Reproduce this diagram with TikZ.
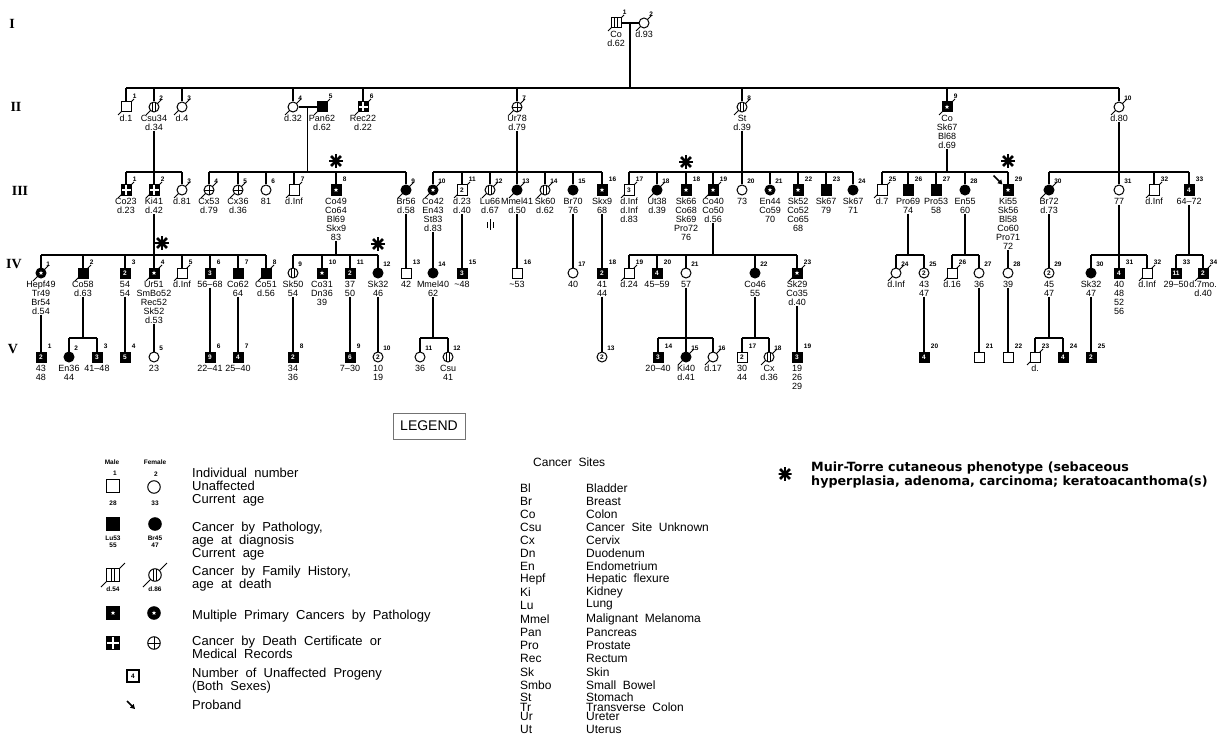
\documentclass[tikz,border=0pt]{standalone}
\usepackage{fontspec}
\setmainfont{Liberation Sans}
\newfontfamily\legfont[WordSpace=2]{Liberation Sans}
\newfontfamily\romfont{Liberation Serif}
\newfontfamily\mtfont{DejaVu Sans}
\usetikzlibrary{shapes.geometric, arrows.meta, positioning, calc}
\tikzset{
  sym/.style={draw, fill=white, line width=1pt, minimum size=10pt, inner sep=0pt},
  male/.style={sym, rectangle},
  female/.style={sym, circle},
  legsym/.style={minimum size=12.5pt},
  aff/.style={fill=black},
  multi/.style={fill=black, path picture={\node[star, star points=5, star point ratio=2.4,
    fill=white, draw=none, inner sep=0pt, minimum size=4.6pt] at (path picture bounding box.center) {};}},
  fhist/.style={path picture={\draw[line width=0.8pt]
    ([xshift=-1.7pt]path picture bounding box.north) -- ([xshift=-1.7pt]path picture bounding box.south)
    ([xshift=1.7pt]path picture bounding box.north) -- ([xshift=1.7pt]path picture bounding box.south);}},
  dcert/.style={fill=black, path picture={\draw[white, line width=1.2pt]
    (path picture bounding box.north) -- (path picture bounding box.south)
    (path picture bounding box.west) -- (path picture bounding box.east);}},
  dcertf/.style={path picture={\draw[line width=0.9pt]
    (path picture bounding box.north) -- (path picture bounding box.south)
    (path picture bounding box.west) -- (path picture bounding box.east);}},
  prog/.style={male, fill=black, text=white, font=\bfseries\fontsize{6.5}{6.5}\selectfont},
  progw/.style={font=\bfseries\fontsize{6.5}{6.5}\selectfont},
  dec/.style={append after command={\pgfextra{\draw[line width=0.8pt]
    ($(\tikzlastnode.center)+(-8,8)$) -- ($(\tikzlastnode.center)+(8,-8)$);}}},
  decl/.style={append after command={\pgfextra{\draw[line width=0.8pt]
    ($(\tikzlastnode.center)+(-12,12)$) -- ($(\tikzlastnode.center)+(12,-12)$);}}},
  num/.style={label={[numlbl]north east:#1}},
  numlbl/.style={font=\bfseries\fontsize{6.5}{7}\selectfont, inner sep=0pt, xshift=1.2pt, yshift=2.5pt},
  txt/.style={label={[lbl]below:#1}},
  txtn/.style 2 args={label={[lbl, name=#1]below:#2}},
  lbl/.style={font=\fontsize{9}{9}\selectfont, align=center, inner sep=0pt, yshift=-2.5pt},
  line/.style={line width=1.2pt},
  proband/.style={-{Triangle[length=4.5pt, width=5pt]}, line width=1.6pt},
  mtast/.style={inner sep=0pt, minimum size=15pt, path picture={
    \fill (path picture bounding box.center) circle (3pt);
    \foreach \a in {0,45,90,135}{\draw[line width=2.8pt]
      ($(path picture bounding box.center)+(\a:7pt)$) -- ($(path picture bounding box.center)+(\a+180:7pt)$);}}},
  gen/.style={font=\romfont\bfseries\fontsize{14}{14}\selectfont, inner sep=0pt},
  lgsm/.style={font=\bfseries\fontsize{6.5}{7.5}\selectfont, inner sep=0pt, align=center},
  legtxt/.style={font=\legfont\fontsize{13}{13}\selectfont, align=left, anchor=west, inner sep=0pt},
  site/.style={font=\legfont\fontsize{12}{12}\selectfont, anchor=west, inner sep=0pt}
}
\begin{document}
\begin{tikzpicture}[x=1pt, y=-1pt]
  \fill[white] (0,0) rectangle (1217,738);
  \useasboundingbox (0,0) rectangle (1217,738);

  % sibship levels
  \coordinate (sII) at (0,88);
  \coordinate (sIII) at (0,172);
  \coordinate (sIV) at (0,255);
  \coordinate (sV) at (0,338);

  % generation numbers
  \node[gen] (gI) at (12,24) {I};
  \node[gen] (gII) at (16,107) {II};
  \node[gen] (gIII) at (20,191) {III};
  \node[gen] (gIV) at (14,264) {IV};
  \node[gen] (gV) at (13,349) {V};

  % generation I
  \node[male, fhist, dec, num=1, txt={Co\\d.62}] (I1) at (616,23) {};
  \node[female, dec, num=2, txt={d.93}] (I2) at (644,23) {};
  \coordinate (mI) at ($(I1.east)!0.5!(I2.west)$);

  % generation II
  \node[male, dec, num=1, txt={d.1}] (II1) at (126,107) {};
  \node[female, fhist, dec, num=2, txtn={II2t}{Csu34\\d.34}] (II2) at (154,107) {};
  \node[female, dec, num=3, txt={d.4}] (II3) at (182,107) {};
  \node[female, dec, num=4, txt={d.32}] (II4) at (293,107) {};
  \node[male, aff, dec, num=5, txt={Pan62\\d.62}] (II5) at (322,107) {};
  \node[male, dcert, dec, num=6, txt={Rec22\\d.22}] (II6) at (363,107) {};
  \node[female, dcertf, dec, num=7, txtn={II7t}{Ur78\\d.79}] (II7) at (517,107) {};
  \node[female, fhist, dec, num=8, txtn={II8t}{St\\d.39}] (II8) at (742,107) {};
  \node[male, multi, dec, num=9, txtn={II9t}{Co\\Sk67\\Bl68\\d.69}] (II9) at (947,107) {};
  \node[female, dec, num=10, txtn={II10t}{d.80}] (II10) at (1119,107) {};
  \coordinate (mII) at ($(II4.east)!0.5!(II5.west)$);

  % generation III
  \node[male, dcert, dec, num=1, txt={Co23\\d.23}] (III1) at (126,190) {};
  \node[male, dcert, dec, num=2, txtn={III2t}{Ki41\\d.42}] (III2) at (154,190) {};
  \node[female, dec, num=3, txt={d.81}] (III3) at (182,190) {};
  \node[female, dcertf, dec, num=4, txt={Cx53\\d.79}] (III4) at (209,190) {};
  \node[female, dcertf, dec, num=5, txt={Cx36\\d.36}] (III5) at (238,190) {};
  \node[female, num=6, txt={81}] (III6) at (266,190) {};
  \node[male, dec, num=7, txt={d.Inf}] (III7) at (294,190) {};
  \node[male, multi, num=8, txtn={III8t}{Co49\\Co64\\Bl69\\Skx9\\83}] (III8) at (336,190) {};
  \node[female, aff, dec, num=9, txtn={III9t}{Br56\\d.58}] (III9) at (406,190) {};
  \node[female, multi, dec, num=10, txtn={III10t}{Co42\\En43\\St83\\d.83}] (III10) at (433,190) {};
  \node[male, progw, dec, num=11, txtn={III11t}{d.23\\d.40}] (III11) at (462,190) {2};
  \node[female, fhist, dec, num=12, txt={Lu66\\d.67}] (III12) at (490,190) {};
  \node[female, aff, dec, num=13, txtn={III13t}{Mmel41\\d.50}] (III13) at (517,190) {};
  \node[female, fhist, dec, num=14, txt={Sk60\\d.62}] (III14) at (545,190) {};
  \node[female, aff, num=15, txtn={III15t}{Br70\\76}] (III15) at (573,190) {};
  \node[male, multi, num=16, txtn={III16t}{Skx9\\68}] (III16) at (602,190) {};
  \node[male, progw, dec, num=17, txt={d.Inf\\d.Inf\\d.83}] (III17) at (629,190) {3};
  \node[female, aff, dec, num=18, txt={Ut38\\d.39}] (III18) at (657,190) {};
  \node[male, multi, num=18, txt={Sk66\\Co68\\Sk69\\Pro72\\76}] (III18b) at (686,190) {};
  \node[male, multi, dec, num=19, txtn={III19t}{Co40\\Co50\\d.56}] (III19) at (713,190) {};
  \node[female, num=20, txt={73}] (III20) at (742,190) {};
  \node[female, multi, num=21, txt={En44\\Co59\\70}] (III21) at (770,190) {};
  \node[male, multi, num=22, txt={Sk52\\Co52\\Co65\\68}] (III22) at (798,190) {};
  \node[male, aff, num=23, txt={Sk67\\79}] (III23) at (826,190) {};
  \node[female, aff, num=24, txt={Sk67\\71}] (III24) at (853,190) {};
  \node[male, dec, num=25, txt={d.7}] (III25) at (882,190) {};
  \node[male, aff, num=26, txtn={III26t}{Pro69\\74}] (III26) at (908,190) {};
  \node[male, aff, num=27, txt={Pro53\\58}] (III27) at (936,190) {};
  \node[female, aff, num=28, txtn={III28t}{En55\\60}] (III28) at (965,190) {};
  \node[male, multi, num=29, txtn={III29t}{Ki55\\Sk56\\Bl58\\Co60\\Pro71\\72}] (III29) at (1008,190) {};
  \node[female, aff, dec, num=30, txtn={III30t}{Br72\\d.73}] (III30) at (1049,190) {};
  \node[female, num=31, txtn={III31t}{77}] (III31) at (1119,190) {};
  \node[male, dec, num=32, txt={d.Inf}] (III32) at (1154,190) {};
  \node[prog, num=33, txtn={III33t}{64--72}] (III33) at (1189,190) {4};

  % generation IV
  \node[female, multi, dec, num=1, txtn={IV1t}{Hepf49\\Tr49\\Br54\\d.54}] (IV1) at (41,273) {};
  \node[male, aff, dec, num=2, txtn={IV2t}{Co58\\d.63}] (IV2) at (83,273) {};
  \node[prog, num=3, txtn={IV3t}{54\\54}] (IV3) at (125,273) {2};
  \node[male, multi, dec, num=4, txtn={IV4t}{Ur51\\SmBo52\\Rec52\\Sk52\\d.53}] (IV4) at (154,273) {};
  \node[male, dec, num=5, txt={d.Inf}] (IV5) at (182,273) {};
  \node[prog, num=6, txtn={IV6t}{56--68}] (IV6) at (210,273) {3};
  \node[male, aff, num=7, txtn={IV7t}{Co62\\64}] (IV7) at (238,273) {};
  \node[male, aff, dec, num=8, txt={Co51\\d.56}] (IV8) at (266,273) {};
  \node[female, fhist, num=9, txtn={IV9t}{Sk50\\54}] (IV9) at (293,273) {};
  \node[male, multi, num=10, txt={Co31\\Dn36\\39}] (IV10) at (322,273) {};
  \node[prog, num=11, txtn={IV11t}{37\\50}] (IV11) at (350,273) {2};
  \node[female, aff, num=12, txtn={IV12t}{Sk32\\46}] (IV12) at (378,273) {};
  \node[male, num=13, txt={42}] (IV13) at (406,273) {};
  \node[female, aff, num=14, txtn={IV14t}{Mmel40\\62}] (IV14) at (433,273) {};
  \node[prog, num=15, txt={\textasciitilde48}] (IV15) at (462,273) {3};
  \node[male, num=16, txt={\textasciitilde53}] (IV16) at (517,273) {};
  \node[female, num=17, txt={40}] (IV17) at (573,273) {};
  \node[prog, num=18, txtn={IV18t}{41\\44}] (IV18) at (602,273) {2};
  \node[male, dec, num=19, txt={d.24}] (IV19) at (629,273) {};
  \node[prog, num=20, txt={45--59}] (IV20) at (657,273) {4};
  \node[female, num=21, txtn={IV21t}{57}] (IV21) at (686,273) {};
  \node[female, aff, num=22, txtn={IV22t}{Co46\\55}] (IV22) at (755,273) {};
  \node[male, multi, dec, num=23, txtn={IV23t}{Sk29\\Co35\\d.40}] (IV23) at (797,273) {};
  \node[female, dec, num=24, txt={d.Inf}] (IV24) at (896,273) {};
  \node[female, progw, num=25, txtn={IV25t}{43\\47}] (IV25) at (924,273) {2};
  \node[male, dec, num=26, txt={d.16}] (IV26) at (952,273) {};
  \node[female, num=27, txtn={IV27t}{36}] (IV27) at (979,273) {};
  \node[female, num=28, txtn={IV28t}{39}] (IV28) at (1008,273) {};
  \node[female, progw, num=29, txtn={IV29t}{45\\47}] (IV29) at (1049,273) {2};
  \node[female, aff, num=30, txtn={IV30t}{Sk32\\47}] (IV30) at (1091,273) {};
  \node[prog, num=31, txt={40\\48\\52\\56}] (IV31) at (1119,273) {4};
  \node[male, dec, num=32, txt={d.Inf}] (IV32) at (1147,273) {};
  \node[prog, num=33, txt={29--50}] (IV33) at (1176,273) {11};
  \node[prog, dec, num=34, txt={d.7mo.\\d.40}] (IV34) at (1203,273) {2};

  % generation V
  \node[prog, num=1, txt={43\\48}] (V1) at (41,357) {2};
  \node[female, aff, num=2, txt={En36\\44}] (V2) at (69,357) {};
  \node[prog, num=3, txt={41--48}] (V3) at (97,357) {3};
  \node[prog, num=4] (V4) at (125,357) {5};
  \node[female, num=5, txt={23}] (V5) at (154,357) {};
  \node[prog, num=6, txt={22--41}] (V6) at (210,357) {9};
  \node[prog, num=7, txt={25--40}] (V7) at (238,357) {4};
  \node[prog, num=8, txt={34\\36}] (V8) at (293,357) {2};
  \node[prog, num=9, txt={7--30}] (V9) at (350,357) {6};
  \node[female, progw, num=10, txt={10\\19}] (V10) at (378,357) {2};
  \node[female, num=11, txt={36}] (V11) at (420,357) {};
  \node[female, fhist, num=12, txt={Csu\\41}] (V12) at (448,357) {};
  \node[female, progw, num=13] (V13) at (602,357) {2};
  \node[prog, num=14, txt={20--40}] (V14) at (658,357) {3};
  \node[female, aff, dec, num=15, txt={Ki40\\d.41}] (V15) at (686,357) {};
  \node[female, dec, num=16, txt={d.17}] (V16) at (713,357) {};
  \node[male, progw, num=17, txt={30\\44}] (V17) at (742,357) {2};
  \node[female, fhist, dec, num=18, txt={Cx\\d.36}] (V18) at (769,357) {};
  \node[prog, num=19, txt={19\\26\\29}] (V19) at (797,357) {3};
  \node[prog, num=20] (V20) at (924,357) {4};
  \node[male, num=21] (V21) at (979,357) {};
  \node[male, num=22] (V22) at (1008,357) {};
  \node[male, dec, num=23, txt={d.}] (V23) at (1035,357) {};
  \node[prog, num=24] (V24) at (1063,357) {4};
  \node[prog, num=25] (V25) at (1091,357) {2};

  % Muir-Torre marks
  \node[mtast] (astIII8) at (336,161) {};
  \node[mtast] (astIII18) at (686,162) {};
  \node[mtast] (astIII29) at (1008,161) {};
  \node[mtast] (astIV4) at (162,243) {};
  \node[mtast] (astIV12) at (378,244) {};

  % proband
  \draw[proband] ([shift={(-9,-9)}]III29.north west) -- (III29.north west);

  % mark under III-12
  \draw[line width=0.6pt] (487,222) -- (487,228) (490,219) -- (490,230) (493,222) -- (493,228);

  % generation I to II
  \draw[line] (I1.east) -- (I2.west);
  \draw[line] (mI) -- (mI |- sII);
  \draw[line] (II1.north |- sII) -- (II10.north |- sII);
  \foreach \c in {II1,II2,II3,II4,II6,II7,II8,II9,II10}
    \draw[line] (\c.north) -- (\c.north |- sII);

  % generation II to III
  \draw[line] (II2t.south) -- (II2t.south |- sIII);
  \draw[line] (III1.north |- sIII) -- (III3.north |- sIII);
  \foreach \c in {III1,III2,III3}
    \draw[line] (\c.north) -- (\c.north |- sIII);

  \draw[line] (II4.east) -- (II5.west);
  \draw[line] (mII) -- (mII |- sIII);
  \draw[line] (III4.north |- sIII) -- (III9.north |- sIII);
  \foreach \c in {III4,III5,III6,III7,III8,III9}
    \draw[line] (\c.north) -- (\c.north |- sIII);

  \draw[line] (II7t.south) -- (II7t.south |- sIII);
  \draw[line] (III10.north |- sIII) -- (III16.north |- sIII);
  \foreach \c in {III10,III11,III12,III13,III14,III15,III16}
    \draw[line] (\c.north) -- (\c.north |- sIII);

  \draw[line] (II8t.south) -- (II8t.south |- sIII);
  \draw[line] (III17.north |- sIII) -- (III24.north |- sIII);
  \foreach \c in {III17,III18,III18b,III19,III20,III21,III22,III23,III24}
    \draw[line] (\c.north) -- (\c.north |- sIII);

  \draw[line] (II9t.south) -- (II9t.south |- sIII);
  \draw[line] (III25.north |- sIII) -- (III29.north |- sIII);
  \foreach \c in {III25,III26,III27,III28,III29}
    \draw[line] (\c.north) -- (\c.north |- sIII);

  \draw[line] (II10t.south) -- (II10t.south |- sIII);
  \draw[line] (III30.north |- sIII) -- (III33.north |- sIII);
  \foreach \c in {III30,III31,III32,III33}
    \draw[line] (\c.north) -- (\c.north |- sIII);

  % generation III to IV
  \draw[line] (III2t.south) -- (III2t.south |- sIV);
  \draw[line] (IV1.north |- sIV) -- (IV8.north |- sIV);
  \foreach \c in {IV1,IV2,IV3,IV4,IV5,IV6,IV7,IV8}
    \draw[line] (\c.north) -- (\c.north |- sIV);

  \draw[line] (III8t.south) -- (III8t.south |- sIV);
  \draw[line] (IV9.north |- sIV) -- (IV12.north |- sIV);
  \foreach \c in {IV9,IV10,IV11,IV12}
    \draw[line] (\c.north) -- (\c.north |- sIV);

  \draw[line] (III9t.south) -- (IV13.north);
  \draw[line] (III10t.south) -- (IV14.north);
  \draw[line] (III11t.south) -- (IV15.north);
  \draw[line] (III13t.south) -- (IV16.north);
  \draw[line] (III15t.south) -- (IV17.north);
  \draw[line] (III16t.south) -- (IV18.north);

  \draw[line] (III19t.south) -- (III19t.south |- sIV);
  \draw[line] (IV19.north |- sIV) -- (IV23.north |- sIV);
  \foreach \c in {IV19,IV20,IV21,IV22,IV23}
    \draw[line] (\c.north) -- (\c.north |- sIV);

  \draw[line] (III26t.south) -- (III26t.south |- sIV);
  \draw[line] (IV24.north |- sIV) -- (IV25.north |- sIV);
  \foreach \c in {IV24,IV25}
    \draw[line] (\c.north) -- (\c.north |- sIV);

  \draw[line] (III28t.south) -- (III28t.south |- sIV);
  \draw[line] (IV26.north |- sIV) -- (IV27.north |- sIV);
  \foreach \c in {IV26,IV27}
    \draw[line] (\c.north) -- (\c.north |- sIV);

  \draw[line] (III29t.south) -- (IV28.north);
  \draw[line] (III30t.south) -- (IV29.north);

  \draw[line] (III31t.south) -- (III31t.south |- sIV);
  \draw[line] (IV30.north |- sIV) -- (IV32.north |- sIV);
  \foreach \c in {IV30,IV31,IV32}
    \draw[line] (\c.north) -- (\c.north |- sIV);

  \draw[line] (III33t.south) -- (III33t.south |- sIV);
  \draw[line] (IV33.north |- sIV) -- (IV34.north |- sIV);
  \foreach \c in {IV33,IV34}
    \draw[line] (\c.north) -- (\c.north |- sIV);

  % generation IV to V
  \draw[line] (IV1t.south) -- (V1.north);
  \draw[line] (IV2t.south) -- (IV2t.south |- sV);
  \draw[line] (V2.north |- sV) -- (V3.north |- sV);
  \foreach \c in {V2,V3}
    \draw[line] (\c.north) -- (\c.north |- sV);
  \draw[line] (IV3t.south) -- (V4.north);
  \draw[line] (IV4t.south) -- (V5.north);
  \draw[line] (IV6t.south) -- (V6.north);
  \draw[line] (IV7t.south) -- (V7.north);
  \draw[line] (IV9t.south) -- (V8.north);
  \draw[line] (IV11t.south) -- (V9.north);
  \draw[line] (IV12t.south) -- (V10.north);
  \draw[line] (IV14t.south) -- (IV14t.south |- sV);
  \draw[line] (V11.north |- sV) -- (V12.north |- sV);
  \foreach \c in {V11,V12}
    \draw[line] (\c.north) -- (\c.north |- sV);
  \draw[line] (IV18t.south) -- (V13.north);
  \draw[line] (IV21t.south) -- (IV21t.south |- sV);
  \draw[line] (V14.north |- sV) -- (V16.north |- sV);
  \foreach \c in {V14,V15,V16}
    \draw[line] (\c.north) -- (\c.north |- sV);
  \draw[line] (IV22t.south) -- (IV22t.south |- sV);
  \draw[line] (V17.north |- sV) -- (V18.north |- sV);
  \foreach \c in {V17,V18}
    \draw[line] (\c.north) -- (\c.north |- sV);
  \draw[line] (IV23t.south) -- (V19.north);
  \draw[line] (IV25t.south) -- (V20.north);
  \draw[line] (IV27t.south) -- (V21.north);
  \draw[line] (IV28t.south) -- (V22.north);
  \draw[line] (IV29t.south) -- (IV29t.south |- sV);
  \draw[line] (V23.north |- sV) -- (V24.north |- sV);
  \foreach \c in {V23,V24}
    \draw[line] (\c.north) -- (\c.north |- sV);
  \draw[line] (IV30t.south) -- (V25.north);

  % legend
  \node[draw=black!55, line width=0.9pt, minimum width=72pt, minimum height=26pt,
    font=\legfont\fontsize{14}{14}\selectfont] (legend) at (429,426) {LEGEND};
  \node[lgsm] (lgmale) at (112,462) {Male};
  \node[lgsm] (lgfemale) at (155,462) {Female};
  \node[lgsm] (lgn1) at (115,473) {1};
  \node[lgsm] (lgn2) at (156,474) {2};
  \node[male, legsym] (lgm1) at (113,486) {};
  \node[female, legsym] (lgf1) at (154,487) {};
  \node[lgsm] (lga1) at (113,503) {28};
  \node[lgsm] (lga2) at (155,503) {33};
  \node[male, legsym, aff] (lgm2) at (113,524) {};
  \node[female, legsym, aff] (lgf2) at (155,524) {};
  \node[lgsm] (lga3) at (113,542) {Lu53\\55};
  \node[lgsm] (lga4) at (155,542) {Br45\\47};
  \node[male, legsym, fhist, decl] (lgm3) at (113,575) {};
  \node[female, legsym, fhist, decl] (lgf3) at (155,575) {};
  \node[lgsm] (lga5) at (113,589) {d.54};
  \node[lgsm] (lga6) at (155,589) {d.86};
  \node[male, legsym, multi] (lgm4) at (113,613) {};
  \node[female, legsym, multi] (lgf4) at (154,613) {};
  \node[male, legsym, dcert] (lgm5) at (113,643) {};
  \node[female, legsym, dcertf] (lgf5) at (154,643) {};
  \node[male, legsym, progw, line width=1.8pt] (lgprog) at (133,676) {4};
  \coordinate (lgpb) at (135,709);
  \draw[proband] ([shift={(-8,-8)}]lgpb) -- (lgpb);

  \node[legtxt] (lgt1) at (192,487) {Individual number\\Unaffected\\Current age};
  \node[legtxt] (lgt2) at (192,541) {Cancer by Pathology,\\age at diagnosis\\Current age};
  \node[legtxt] (lgt3) at (192,578.5) {Cancer by Family History,\\age at death};
  \node[legtxt] (lgt4) at (192,616) {Multiple Primary Cancers by Pathology};
  \node[legtxt] (lgt5) at (192,647.5) {Cancer by Death Certificate or\\Medical Records};
  \node[legtxt] (lgt6) at (192,680.5) {Number of Unaffected Progeny\\(Both Sexes)};
  \node[legtxt] (lgt7) at (192,705) {Proband};

  % cancer sites
  \node[site] (sites) at (533,462) {Cancer Sites};
  \foreach \ab/\nm/\yy in {Bl/Bladder/488, Br/Breast/501, Co/Colon/514,
      Csu/Cancer Site Unknown/527, Cx/Cervix/540, Dn/Duodenum/553,
      En/Endometrium/566, Hepf/Hepatic flexure/579, Ki/Kidney/592, Lu/Lung/605,
      Mmel/Malignant Melanoma/619, Pan/Pancreas/632, Pro/Prostate/645,
      Rec/Rectum/658, Sk/Skin/672, Smbo/Small Bowel/685, St/Stomach/697,
      Tr/Transverse Colon/707, Ur/Ureter/716, Ut/Uterus/729} {
    \node[site] (ab\ab) at (520,\yy) {\ab};
    \node[site] (nm\ab) at (586,\yy) {\nm};
  }

  % Muir-Torre key
  \node[mtast, minimum size=13pt] (mtkey) at (785,474) {};
  \node[anchor=west, align=left, inner sep=0pt,
    font=\mtfont\bfseries\fontsize{12.7}{11}\selectfont] (mttxt) at (811,475)
    {Muir-Torre cutaneous phenotype (sebaceous\\hyperplasia, adenoma, carcinoma; keratoacanthoma(s)};
\end{tikzpicture}
\end{document}
